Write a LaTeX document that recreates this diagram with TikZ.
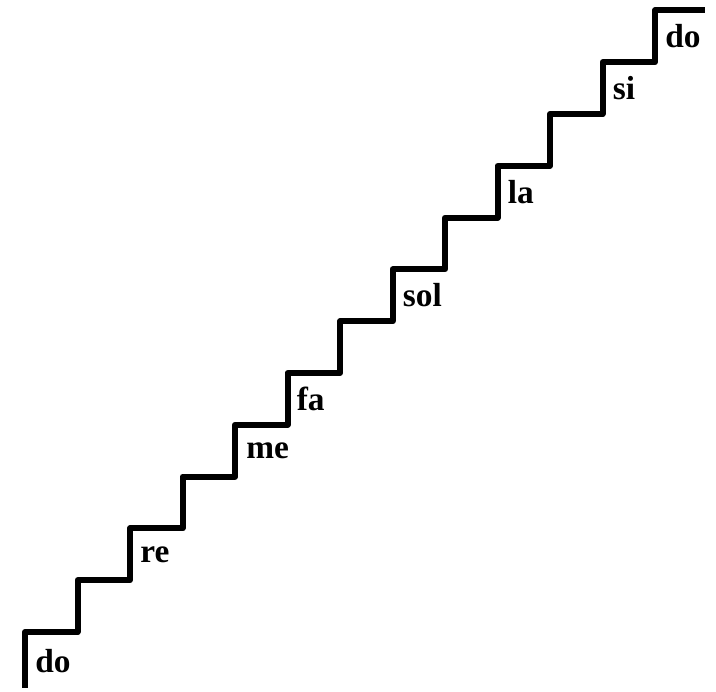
\documentclass[tikz,border=0pt]{standalone}
\usepackage{fontspec}
\setmainfont{Liberation Serif}
\usepackage{tikz}
\usetikzlibrary{calc}

\begin{document}
\begin{tikzpicture}[
  x=0.02cm, y=0.02cm,
  stair/.style={line width=0.12cm, line join=round, draw=black},
  note/.style={anchor=west, inner sep=0pt, font=\fontsize{19}{22}\selectfont\bfseries}
]
\useasboundingbox (0,0) rectangle (716,692);

% the scale as a staircase, one riser per semitone
\draw[stair] (25,4) -- (25,60) coordinate (t0)
  -- ++(52.5,0) -- ++(0,51.8) coordinate (t1)
  -- ++(52.5,0) -- ++(0,51.8) coordinate (t2)
  -- ++(52.5,0) -- ++(0,51.8) coordinate (t3)
  -- ++(52.5,0) -- ++(0,51.8) coordinate (t4)
  -- ++(52.5,0) -- ++(0,51.8) coordinate (t5)
  -- ++(52.5,0) -- ++(0,51.8) coordinate (t6)
  -- ++(52.5,0) -- ++(0,51.8) coordinate (t7)
  -- ++(52.5,0) -- ++(0,51.8) coordinate (t8)
  -- ++(52.5,0) -- ++(0,51.8) coordinate (t9)
  -- ++(52.5,0) -- ++(0,51.8) coordinate (t10)
  -- ++(52.5,0) -- ++(0,51.8) coordinate (t11)
  -- ++(52.5,0) -- ++(0,51.8) coordinate (t12)
  -- ++(50,0);

\node[note] (dolow) at ($(t0)+(10,-29)$) {do};
\node[note] (re) at ($(t2)+(10,-26)$) {re};
\node[note] (me) at ($(t4)+(11,-26)$) {me};
\node[note] (fa) at ($(t5)+(9,-26)$) {fa};
\node[note] (sol) at ($(t7)+(10,-26)$) {sol};
\node[note] (la) at ($(t9)+(10,-26)$) {la};
\node[note] (si) at ($(t11)+(10,-26)$) {si};
\node[note] (dohigh) at ($(t12)+(10,-26)$) {do};
\end{tikzpicture}
\end{document}
